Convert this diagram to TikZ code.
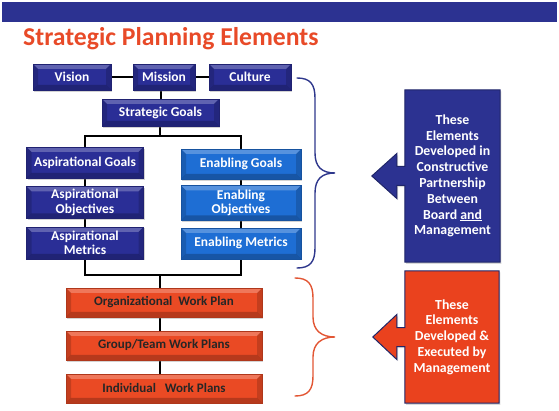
\documentclass[tikz,border=0pt]{standalone}
\usepackage{fontspec}
\setmainfont{Carlito}
\usetikzlibrary{positioning,shadows,backgrounds}

\definecolor{barblue}{RGB}{44,50,145}
\definecolor{titleorange}{RGB}{232,74,40}
\definecolor{deepblue}{RGB}{42,46,150}
\definecolor{skyblue}{RGB}{30,110,212}
\definecolor{planorange}{RGB}{234,74,36}
\definecolor{noteblue}{RGB}{44,50,145}
\definecolor{noteorange}{RGB}{234,66,30}
\definecolor{noteedge}{RGB}{32,38,105}
\definecolor{braceblue}{RGB}{46,55,140}
\definecolor{braceorange}{RGB}{226,86,52}

\begin{document}
\begin{tikzpicture}[x=1pt,y=-1pt,
  bevel/.style={path picture={
    \path (path picture bounding box.north west) coordinate (bnw)
          (path picture bounding box.north east) coordinate (bne)
          (path picture bounding box.south west) coordinate (bsw)
          (path picture bounding box.south east) coordinate (bse);
    \fill[white,opacity=.25] (bnw) -- (bne) -- ([shift={(-5pt,-5pt)}]bne) -- ([shift={(5pt,-5pt)}]bnw) -- cycle;
    \fill[black,opacity=.22] (bsw) -- (bse) -- ([shift={(-5pt,5pt)}]bse) -- ([shift={(5pt,5pt)}]bsw) -- cycle;
    \fill[black,opacity=.16] (bnw) -- ([shift={(5pt,-5pt)}]bnw) -- ([shift={(5pt,5pt)}]bsw) -- (bsw) -- cycle;
    \fill[black,opacity=.16] (bne) -- ([shift={(-5pt,-5pt)}]bne) -- ([shift={(-5pt,5pt)}]bse) -- (bse) -- cycle;
  }},
  panel/.style={rectangle, bevel, draw=#1!75!black, fill=#1, line width=.4pt,
    align=center, inner sep=1pt, font=\bfseries\fontsize{13.5}{14.6}\selectfont,
    drop shadow={shadow xshift=1.2pt, shadow yshift=-1.6pt, opacity=.35}},
  bluebox/.style={panel=deepblue, text=white},
  skybox/.style={panel=skyblue, text=white, minimum width=120pt},
  planbox/.style={panel=planorange, text=black!85, minimum width=196pt, minimum height=29pt,
    font=\bfseries\fontsize{13}{14}\selectfont},
  link/.style={draw=black, line width=2pt},
  note/.style={align=center, text=white, font=\bfseries\fontsize{13.8}{15.8}\selectfont},
  noteline/.style={draw=noteedge, line width=1pt, line join=miter,
    drop shadow={shadow xshift=1.2pt, shadow yshift=-1.6pt, opacity=.3}},
  brace/.style={line width=1.4pt, line cap=round}]

\useasboundingbox (0,0) rectangle (559,411);

% banner and title
\fill[barblue] (2,2) rectangle (557,22);
\node[anchor=base west, inner sep=0pt, text=titleorange,
      font=\bfseries\fontsize{25.7}{30}\selectfont] (title) at (23,46) {Strategic Planning Elements};

% top row
\node[bluebox, minimum width=78pt, minimum height=26pt] (vision)  at (72,77)  {Vision};
\node[bluebox, minimum width=62pt, minimum height=26pt] (mission) at (164,77) {Mission};
\node[bluebox, minimum width=82pt, minimum height=26pt] (culture) at (250,77) {Culture};
\node[bluebox, minimum width=117pt, minimum height=27pt] (strategic) at (160.5,112.5) {Strategic Goals};

% aspirational column
\node[bluebox, minimum width=117pt, minimum height=31pt] (aspgoals) at (85,162.5) {Aspirational Goals};
\node[bluebox, minimum width=117pt, minimum height=32pt] (aspobj) [below=8pt of aspgoals] {Aspirational\\Objectives};
\node[bluebox, minimum width=117pt, minimum height=32pt] (aspmet) [below=8pt of aspobj] {Aspirational\\Metrics};

% enabling column
\node[skybox, minimum height=30pt] (enagoals) at (241,164) {Enabling Goals};
\node[skybox, minimum height=35pt] (enaobj) [below=6pt of enagoals] {Enabling\\Objectives};
\node[skybox, minimum height=31pt] (enamet) [below=7pt of enaobj] {Enabling Metrics};

% work plans
\node[planbox] (orgplan) at (164,302.5) {Organizational~~Work Plan};
\node[planbox] (teamplan) [below=13.5pt of orgplan] {Group/Team Work Plans};
\node[planbox] (indplan) [below=13.5pt of teamplan] {Individual~~~Work Plans};

\coordinate (split) at (160,136);
\coordinate (join)  at (160,275);

% side notes
\node[note, minimum width=95pt, minimum height=172pt] (boardnote) at (452.5,176)
  {These\\Elements\\Developed in\\Constructive\\Partnership\\Between\\Board \underline{and}\\Management};
\node[note, minimum width=94pt, minimum height=132pt] (mgmtnote) at (452,337)
  {These\\Elements\\Developed \&\\Executed by\\Management};

\begin{scope}[on background layer]
\draw[link] (vision) -- (vision -| mission.west);
\draw[link] (mission.east) -- (culture.west);
\draw[link] (strategic.north) -- (strategic.north |- mission.south);
\draw[link] (strategic.south -| split) -- (split);
\draw[link] (aspgoals) |- (split) -| (enagoals);
\draw[link] (aspgoals) -- (aspobj);
\draw[link] (aspobj) -- (aspmet);
\draw[link] (enagoals) -- (enaobj);
\draw[link] (enaobj) -- (enamet);
\draw[link] (aspmet) |- (join) -| (enamet);
\draw[link] (join) -- (join |- orgplan.north);
\draw[link] (orgplan.south -| join) -- (teamplan.north -| join);
\draw[link] (teamplan.south -| join) -- (indplan.north -| join);

\draw[noteline, fill=noteblue] (boardnote.north west) -- (boardnote.north east)
  -- (boardnote.south east) -- (boardnote.south west)
  -- ([yshift=-9.5pt]boardnote.west) -- ++(-8pt,0pt) -- ++(0pt,-13pt)
  -- ++(-25pt,22.5pt) -- ++(25pt,22.5pt) -- ++(0pt,-13pt)
  -- ([yshift=9.5pt]boardnote.west) -- cycle;
\draw[noteline, fill=noteorange] (mgmtnote.north west) -- (mgmtnote.north east)
  -- (mgmtnote.south east) -- (mgmtnote.south west)
  -- ([yshift=-9.5pt]mgmtnote.west) -- ++(-8pt,0pt) -- ++(0pt,-13pt)
  -- ++(-24pt,22.5pt) -- ++(24pt,22.5pt) -- ++(0pt,-13pt)
  -- ([yshift=9.5pt]mgmtnote.west) -- cycle;
\end{scope}

% braces
\draw[brace, braceblue] (297,78) .. controls (310,78) and (315,84) .. (315,98)
  -- (315,153) .. controls (315,167) and (322,173) .. (335,173)
  .. controls (322,173) and (315,179) .. (315,193)
  -- (315,248) .. controls (315,262) and (310,268) .. (297,268);
\draw[brace, braceorange] (295,278) .. controls (308,278) and (313,284) .. (313,298)
  -- (313,317) .. controls (313,331) and (322,337) .. (335,337)
  .. controls (322,337) and (313,343) .. (313,357)
  -- (313,376) .. controls (313,390) and (308,396) .. (295,396);
\end{tikzpicture}
\end{document}
